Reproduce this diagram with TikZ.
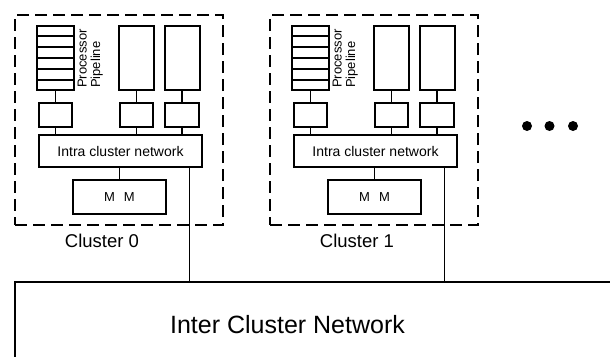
\documentclass[tikz,border=0pt]{standalone}
\usepackage{fontspec}
\setmainfont{Liberation Sans}
\usetikzlibrary{calc}
\begin{document}
\begin{tikzpicture}[x=1pt,y=-1pt,
  box/.style={draw, line width=1.5pt, inner sep=0pt},
  clusterbox/.style={draw, dash pattern=on 12pt off 6pt, line width=1.6pt, inner sep=0pt},
  wire/.style={line width=1.4pt},
  lbl/.style={font=\fontsize{18.5}{22}\selectfont, inner sep=0pt},
  dot/.style={circle, fill, inner sep=0pt, minimum size=10pt}]
\useasboundingbox (0,0) rectangle (610,356);
\foreach \i/\dx in {0/0,1/255}{
  \node[clusterbox, minimum width=208, minimum height=210] (c\i) at (119+\dx,120) {};
  % processors
  \node[box, minimum width=37, minimum height=64] (pa\i) at (55.5+\dx,58) {};
  \node[box, minimum width=35, minimum height=64] (pb\i) at (136.5+\dx,58) {};
  \node[box, minimum width=35, minimum height=64] (pc\i) at (182.5+\dx,58) {};
  \foreach \k in {1,...,5}{
    \draw[wire] ($(pa\i.north west)!\k/6!(pa\i.south west)$) -- ($(pa\i.north east)!\k/6!(pa\i.south east)$);
  }
  \node[rotate=90, anchor=north west, align=left, inner sep=0pt,
        font=\fontsize{13}{13.5}\selectfont] (pt\i) at (77.5+\dx,88) {Processor\\Pipeline};
  % small boxes
  \node[box, minimum width=33, minimum height=24] (sa\i) at (55.5+\dx,115) {};
  \node[box, minimum width=33, minimum height=24] (sb\i) at (136.5+\dx,115) {};
  \node[box, minimum width=34, minimum height=24] (sc\i) at (182+\dx,115) {};
  % intra network
  \node[box, minimum width=163, minimum height=32, font=\fontsize{14}{14}\selectfont] (net\i) at (120.5+\dx,151) {Intra cluster network};
  % memory
  \node[box, minimum width=93, minimum height=34, font=\fontsize{13}{13}\selectfont] (mm\i) at (119.5+\dx,197) {M\hspace{9pt}M};
  \node[lbl] (cl\i) at (102+\dx,240.5) {Cluster \i};
  % wires
  \draw[wire] (sa\i.north) -- (sa\i.north |- pa\i.south);
  \draw[wire] (sb\i.north) -- (sb\i.north |- pb\i.south);
  \draw[wire] (sc\i.north) -- (sc\i.north |- pc\i.south);
  \draw[wire] (sa\i.south) -- (sa\i.south |- net\i.north);
  \draw[wire] (sb\i.south) -- (sb\i.south |- net\i.north);
  \draw[wire] (sc\i.south) -- (sc\i.south |- net\i.north);
  \draw[wire] (mm\i.north) -- (mm\i.north |- net\i.south);
  \coordinate (x\i) at (189.5+\dx,282);
  \draw[wire] (x\i |- net\i.south) -- (x\i);
}
% inter cluster network
\coordinate (icTR) at (611,282);
\coordinate (icBL) at (15,357);
\draw[line width=1.6pt] (icTR) -- (icTR -| icBL) -- (icBL);
\node[font=\fontsize{25}{25}\selectfont, inner sep=0pt] (icn) at (287.5,325) {Inter Cluster Network};
% dots
\node[dot] (d1) at (527,126) {};
\node[dot] (d2) at (549.5,126) {};
\node[dot] (d3) at (573,126) {};
\end{tikzpicture}
\end{document}
